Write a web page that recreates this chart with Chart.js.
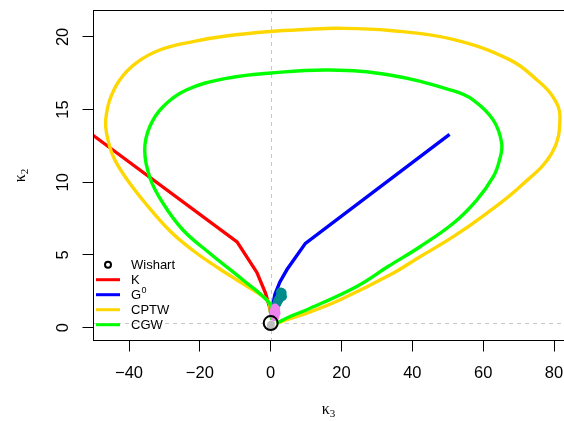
<!DOCTYPE html>
<html>
<head>
<meta charset="utf-8">
<script src="https://cdn.jsdelivr.net/npm/chart.js@4.4.0/dist/chart.umd.min.js"></script>
<style>
  html, body { margin: 0; padding: 0; background: #fff; overflow: hidden; }
  canvas { display: block; }
</style>
</head>
<body>
<canvas id="chartKappa" width="564" height="421"></canvas>
<script>
const xTicks = [-40, -20, 0, 20, 40, 60, 80];
const yTicks = [0, 5, 10, 15, 20];

// Wishart point
const wishartX = [0.0];
const wishartY = [0.32];

// K
const kX = [-50.8, -9.5, -3.9, -1.5, -0.3, 0.1];
const kY = [13.35, 5.9, 3.8, 2.4, 1.4, 0.9];

// G0
const g0X = [0.3, 1.2, 2.6, 4.6, 9.8, 50.5];
const g0Y = [1.2, 2.3, 3.15, 4.0, 5.8, 13.3];

// CPTW
const cptwX = [0.37, -0.06, -0.76, -7.82, -14.6, -21.94, -28.43, -35.21, -40.85, -44.52, -46.36, -46.58, -45.45, -42.63, -38.03, -31.34, -21.94, -12.62, -0.2, 9.68, 19.57, 33.68, 51.47, 67.56, 75.18, 79.7, 81.68, 79.42, 70.38, 60.98, 51.55, 42.15, 33.6, 19.48, 10.05, 5.45, 1.64];
const cptwY = [0.53, 1.08, 1.84, 3.01, 4.07, 5.31, 6.65, 8.51, 10.3, 11.81, 13.39, 14.29, 15.66, 17.04, 18.2, 19.1, 19.68, 20.06, 20.37, 20.51, 20.59, 20.44, 19.83, 18.42, 17.04, 15.87, 14.49, 12.02, 9.7, 7.87, 6.26, 4.88, 3.62, 1.91, 0.99, 0.63, 0.29];

// CGW
const cgwX = [0.37, -0.06, -0.28, -7.82, -17.22, -24.76, -30.41, -34.08, -35.57, -34.16, -30.41, -23.83, -12.54, 0.08, 16.66, 33.6, 51.47, 57.2, 62.85, 65.22, 64.6, 62.85, 58.16, 51.55, 42.15, 33.12, 24.17, 10.05, 5.45, 1.64];
const cgwY = [0.53, 1.08, 1.68, 3.28, 5.12, 6.72, 8.56, 10.3, 12.22, 13.82, 15.2, 16.35, 17.15, 17.52, 17.72, 17.38, 16.3, 15.66, 14.28, 12.68, 11.53, 10.39, 8.78, 7.18, 5.57, 4.21, 2.82, 1.22, 0.77, 0.3];

// sample clouds near the origin
const tealX = [1.7, 1.9, 2.1, 2.4, 2.6, 2.9, 3.2, 3.3, 2.8, 3.0];
const tealY = [1.65, 1.75, 1.9, 1.95, 2.1, 2.2, 2.4, 2.15, 2.45, 2.3];
const violetX = [0.9, 1.5, 1.2, 1.2, 1.0, 1.4];
const violetY = [0.9, 1.0, 1.35, 0.75, 1.15, 1.25];
const grayX = [-0.1, 0.2, 0.1, 0.0];
const grayY = [0.15, 0.25, 0.05, 0.2];

const pts = (xs, ys) => xs.map((v, i) => ({ x: v, y: ys[i] }));
const SANS = '"Liberation Sans", Arial, sans-serif';
const SERIF = '"Liberation Serif", "DejaVu Serif", serif';
const minus = v => (v < 0 ? '\u2212' + Math.abs(v) : String(v));

function drawKappa(ctx, sub, cx, cy) {
  ctx.font = '16px ' + SERIF;
  const w1 = ctx.measureText('\u03ba').width;
  ctx.font = '11px ' + SERIF;
  const w2 = ctx.measureText(sub).width;
  const x0 = cx - (w1 + w2) / 2;
  ctx.textAlign = 'left';
  ctx.textBaseline = 'alphabetic';
  ctx.font = '16px ' + SERIF;
  ctx.fillText('\u03ba', x0, cy + 3);
  ctx.font = '11px ' + SERIF;
  ctx.fillText(sub, x0 + w1, cy + 6);
}

const decorations = {
  id: 'decorations',
  beforeDatasetsDraw(chart) {
    const { ctx, chartArea: a, scales: { x, y } } = chart;
    const px = Math.round(x.getPixelForValue(wishartX[0])) + 0.5;
    const py = Math.round(y.getPixelForValue(wishartY[0])) + 0.5;
    ctx.save();
    ctx.strokeStyle = '#c8c8c8';
    ctx.lineWidth = 1;
    ctx.setLineDash([4, 4]);
    ctx.beginPath();
    ctx.moveTo(px, a.top); ctx.lineTo(px, a.bottom);
    ctx.moveTo(a.left, py); ctx.lineTo(a.right, py);
    ctx.stroke();
    ctx.restore();
  },
  afterDraw(chart) {
    const { ctx, chartArea: a, scales: { x, y } } = chart;
    ctx.save();
    // box (right side falls just past the canvas edge, as in the original)
    ctx.strokeStyle = '#000';
    ctx.lineWidth = 1;
    ctx.strokeRect(a.left + 0.5, a.top + 0.5, a.right - a.left, a.bottom - a.top - 1);

    // tick labels
    ctx.fillStyle = '#000';
    ctx.font = '16.5px ' + SANS;
    ctx.textAlign = 'center';
    ctx.textBaseline = 'middle';
    xTicks.forEach(v => ctx.fillText(minus(v), x.getPixelForValue(v), 373));
    yTicks.forEach(v => {
      ctx.save();
      ctx.translate(63, y.getPixelForValue(v));
      ctx.rotate(-Math.PI / 2);
      ctx.fillText(minus(v), 0, 0);
      ctx.restore();
    });

    // axis titles
    drawKappa(ctx, '3', (a.left + a.right) / 2, 411);
    ctx.save();
    ctx.translate(22, (a.top + a.bottom) / 2);
    ctx.rotate(-Math.PI / 2);
    drawKappa(ctx, '2', 0, 0);
    ctx.restore();

    // legend
    const rows = [
      { label: 'Wishart', color: '#000', kind: 'circle' },
      { label: 'K', color: '#ff0000' },
      { label: 'G', sup: '0', color: '#0000ff' },
      { label: 'CPTW', color: '#ffd700' },
      { label: 'CGW', color: '#00ff00' }
    ];
    rows.forEach((r, i) => {
      const ry = 264.7 + 15 * i;
      ctx.strokeStyle = r.color;
      ctx.lineWidth = r.kind === 'circle' ? 2 : 3;
      ctx.beginPath();
      if (r.kind === 'circle') {
        ctx.arc(108, ry, 3, 0, Math.PI * 2);
      } else {
        ctx.moveTo(96, ry); ctx.lineTo(120, ry);
      }
      ctx.stroke();
      ctx.fillStyle = '#000';
      ctx.font = '13px ' + SANS;
      ctx.textAlign = 'left';
      ctx.textBaseline = 'middle';
      ctx.fillText(r.label, 131, ry + 0.5);
      if (r.sup) {
        const w = ctx.measureText(r.label).width;
        ctx.font = '9px ' + SANS;
        ctx.fillText(r.sup, 131 + w + 0.5, ry - 4);
      }
    });
    ctx.restore();
  }
};

const curve = (xs, ys, color, order, tension) => ({
  data: pts(xs, ys),
  showLine: true,
  borderColor: color,
  borderWidth: 3.4,
  pointRadius: 0,
  tension: tension,
  fill: false,
  order: order
});

const cloud = (xs, ys, color, r, order) => ({
  data: pts(xs, ys),
  showLine: false,
  pointRadius: r,
  pointBorderWidth: 0,
  pointBackgroundColor: color,
  backgroundColor: color,
  borderColor: color,
  order: order
});

const noPad = s => { s.paddingLeft = 0; s.paddingRight = 0; s.paddingTop = 0; s.paddingBottom = 0; };

const ctx = document.getElementById('chartKappa').getContext('2d');
const chart = new Chart(ctx, {
  type: 'scatter',
  data: {
    datasets: [
      {
        data: pts(wishartX, wishartY),
        pointRadius: 7,
        pointBorderWidth: 2,
        pointBorderColor: '#000',
        pointBackgroundColor: 'rgba(0,0,0,0)',
        order: 0
      },
      cloud(violetX, violetY, '#ee82ee', 4.5, 1),
      cloud(tealX, tealY, '#008b8b', 4.6, 2),
      cloud(grayX, grayY, '#bebebe', 3.5, 3),
      curve(cgwX, cgwY, '#00ff00', 4, 0.4),
      curve(cptwX, cptwY, '#ffd700', 5, 0.4),
      curve(g0X, g0Y, '#0000ff', 6, 0),
      curve(kX, kY, '#ff0000', 7, 0)
    ]
  },
  options: {
    responsive: false,
    animation: false,
    events: [],
    layout: { autoPadding: false, padding: { top: 10, left: 0, right: 0, bottom: 0 } },
    plugins: { legend: { display: false }, tooltip: { enabled: false } },
    scales: {
      x: {
        type: 'linear',
        min: -50.17,
        max: 82.81,
        afterBuildTicks: s => { s.ticks = xTicks.map(v => ({ value: v })); },
        afterFit: s => { s.height = 80; noPad(s); },
        ticks: { display: false },
        border: { display: false },
        grid: { drawOnChartArea: false, drawTicks: true, tickLength: 10.5, tickColor: '#000', color: '#000' }
      },
      y: {
        type: 'linear',
        min: -0.915,
        max: 21.85,
        afterBuildTicks: s => { s.ticks = yTicks.map(v => ({ value: v })); },
        afterFit: s => { s.width = 93; noPad(s); },
        ticks: { display: false },
        border: { display: false },
        grid: { drawOnChartArea: false, drawTicks: true, tickLength: 10.5, tickColor: '#000', color: '#000' }
      }
    }
  },
  plugins: [decorations]
});
</script>
</body>
</html>
